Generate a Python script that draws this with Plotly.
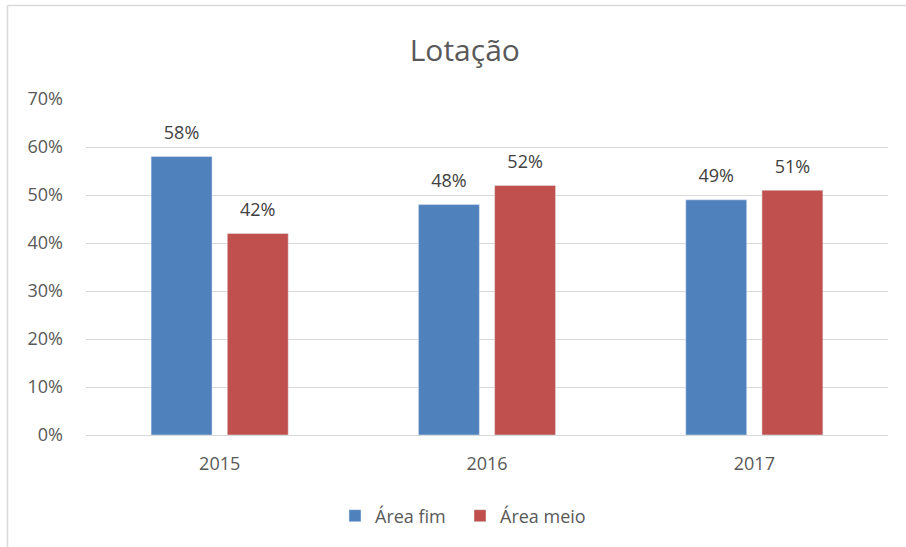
import plotly.graph_objects as go

categories = ["2015", "2016", "2017"]
area_fim = [0.58, 0.48, 0.49]
area_meio = [0.42, 0.52, 0.51]
series_names = ["Área fim", "Área meio"]
colors = ["#4F81BD", "#C0504D"]
tick_vals = [0, 0.1, 0.2, 0.3, 0.4, 0.5, 0.6, 0.7]

W, H = 906, 547
L, R, T, B = 86, 18, 99, 112
pw, ph = W - L - R, H - T - B

def px_x(px):
    return (px - L) / pw

def px_y(py):
    return (H - B - py) / ph

FONT = "Open Sans"
GREY = "#595959"
FS = 18

fig = go.Figure()
for name, vals, col in zip(series_names, [area_fim, area_meio], colors):
    fig.add_trace(go.Bar(x=categories, y=vals, name=name, marker_color=col,
                         hoverinfo="skip"))
for name, vals in zip(series_names, [area_fim, area_meio]):
    fig.add_trace(go.Scatter(
        x=categories, y=vals, mode="markers+text", showlegend=False,
        text=[f"{v:.0%}" for v in vals], textposition="top center",
        marker=dict(size=19, color="rgba(0,0,0,0)"),
        textfont=dict(size=FS, color="#404040", family=FONT),
        cliponaxis=False, hoverinfo="skip",
    ))

fig.update_layout(
    width=W, height=H,
    margin=dict(l=L, r=R, t=T, b=B, autoexpand=False),
    paper_bgcolor="white", plot_bgcolor="white",
    title=dict(text="Lotação", x=0.513, xanchor="center", y=1 - 50 / H, yanchor="middle",
               font=dict(family=FONT, size=30, color=GREY)),
    barmode="group", bargap=0.43, bargroupgap=0.2,
    scattermode="group", scattergap=0.43,
    showlegend=True,
    legend=dict(orientation="h", x=px_x(460), xanchor="center", y=px_y(516), yanchor="middle",
                font=dict(family=FONT, size=FS, color=GREY), traceorder="normal",
                entrywidth=80),
    xaxis=dict(showgrid=False, showline=True, linecolor="#D9D9D9", linewidth=1,
               ticks="", ticklabelstandoff=12,
               tickfont=dict(family=FONT, size=FS, color=GREY)),
    yaxis=dict(range=[0, 0.7], tickvals=tick_vals, tickformat=".0%",
               showgrid=True, gridcolor="#D9D9D9", gridwidth=1, zeroline=False,
               showline=False, ticks="", ticklabelstandoff=22,
               tickfont=dict(family=FONT, size=FS, color=GREY)),
    font=dict(family=FONT),
)

# outer chart border (light grey, top and left visible)
fig.add_shape(type="line", xref="paper", yref="paper",
              x0=px_x(7.5), x1=px_x(7.5), y0=px_y(5.5), y1=px_y(547),
              line=dict(color="#D9D9D9", width=1.5))
fig.add_shape(type="line", xref="paper", yref="paper",
              x0=px_x(7.5), x1=px_x(906), y0=px_y(5.5), y1=px_y(5.5),
              line=dict(color="#D9D9D9", width=1.5))

fig.write_html("out.html", config={"displayModeBar": False},
               post_script="document.body.style.margin='0';")
